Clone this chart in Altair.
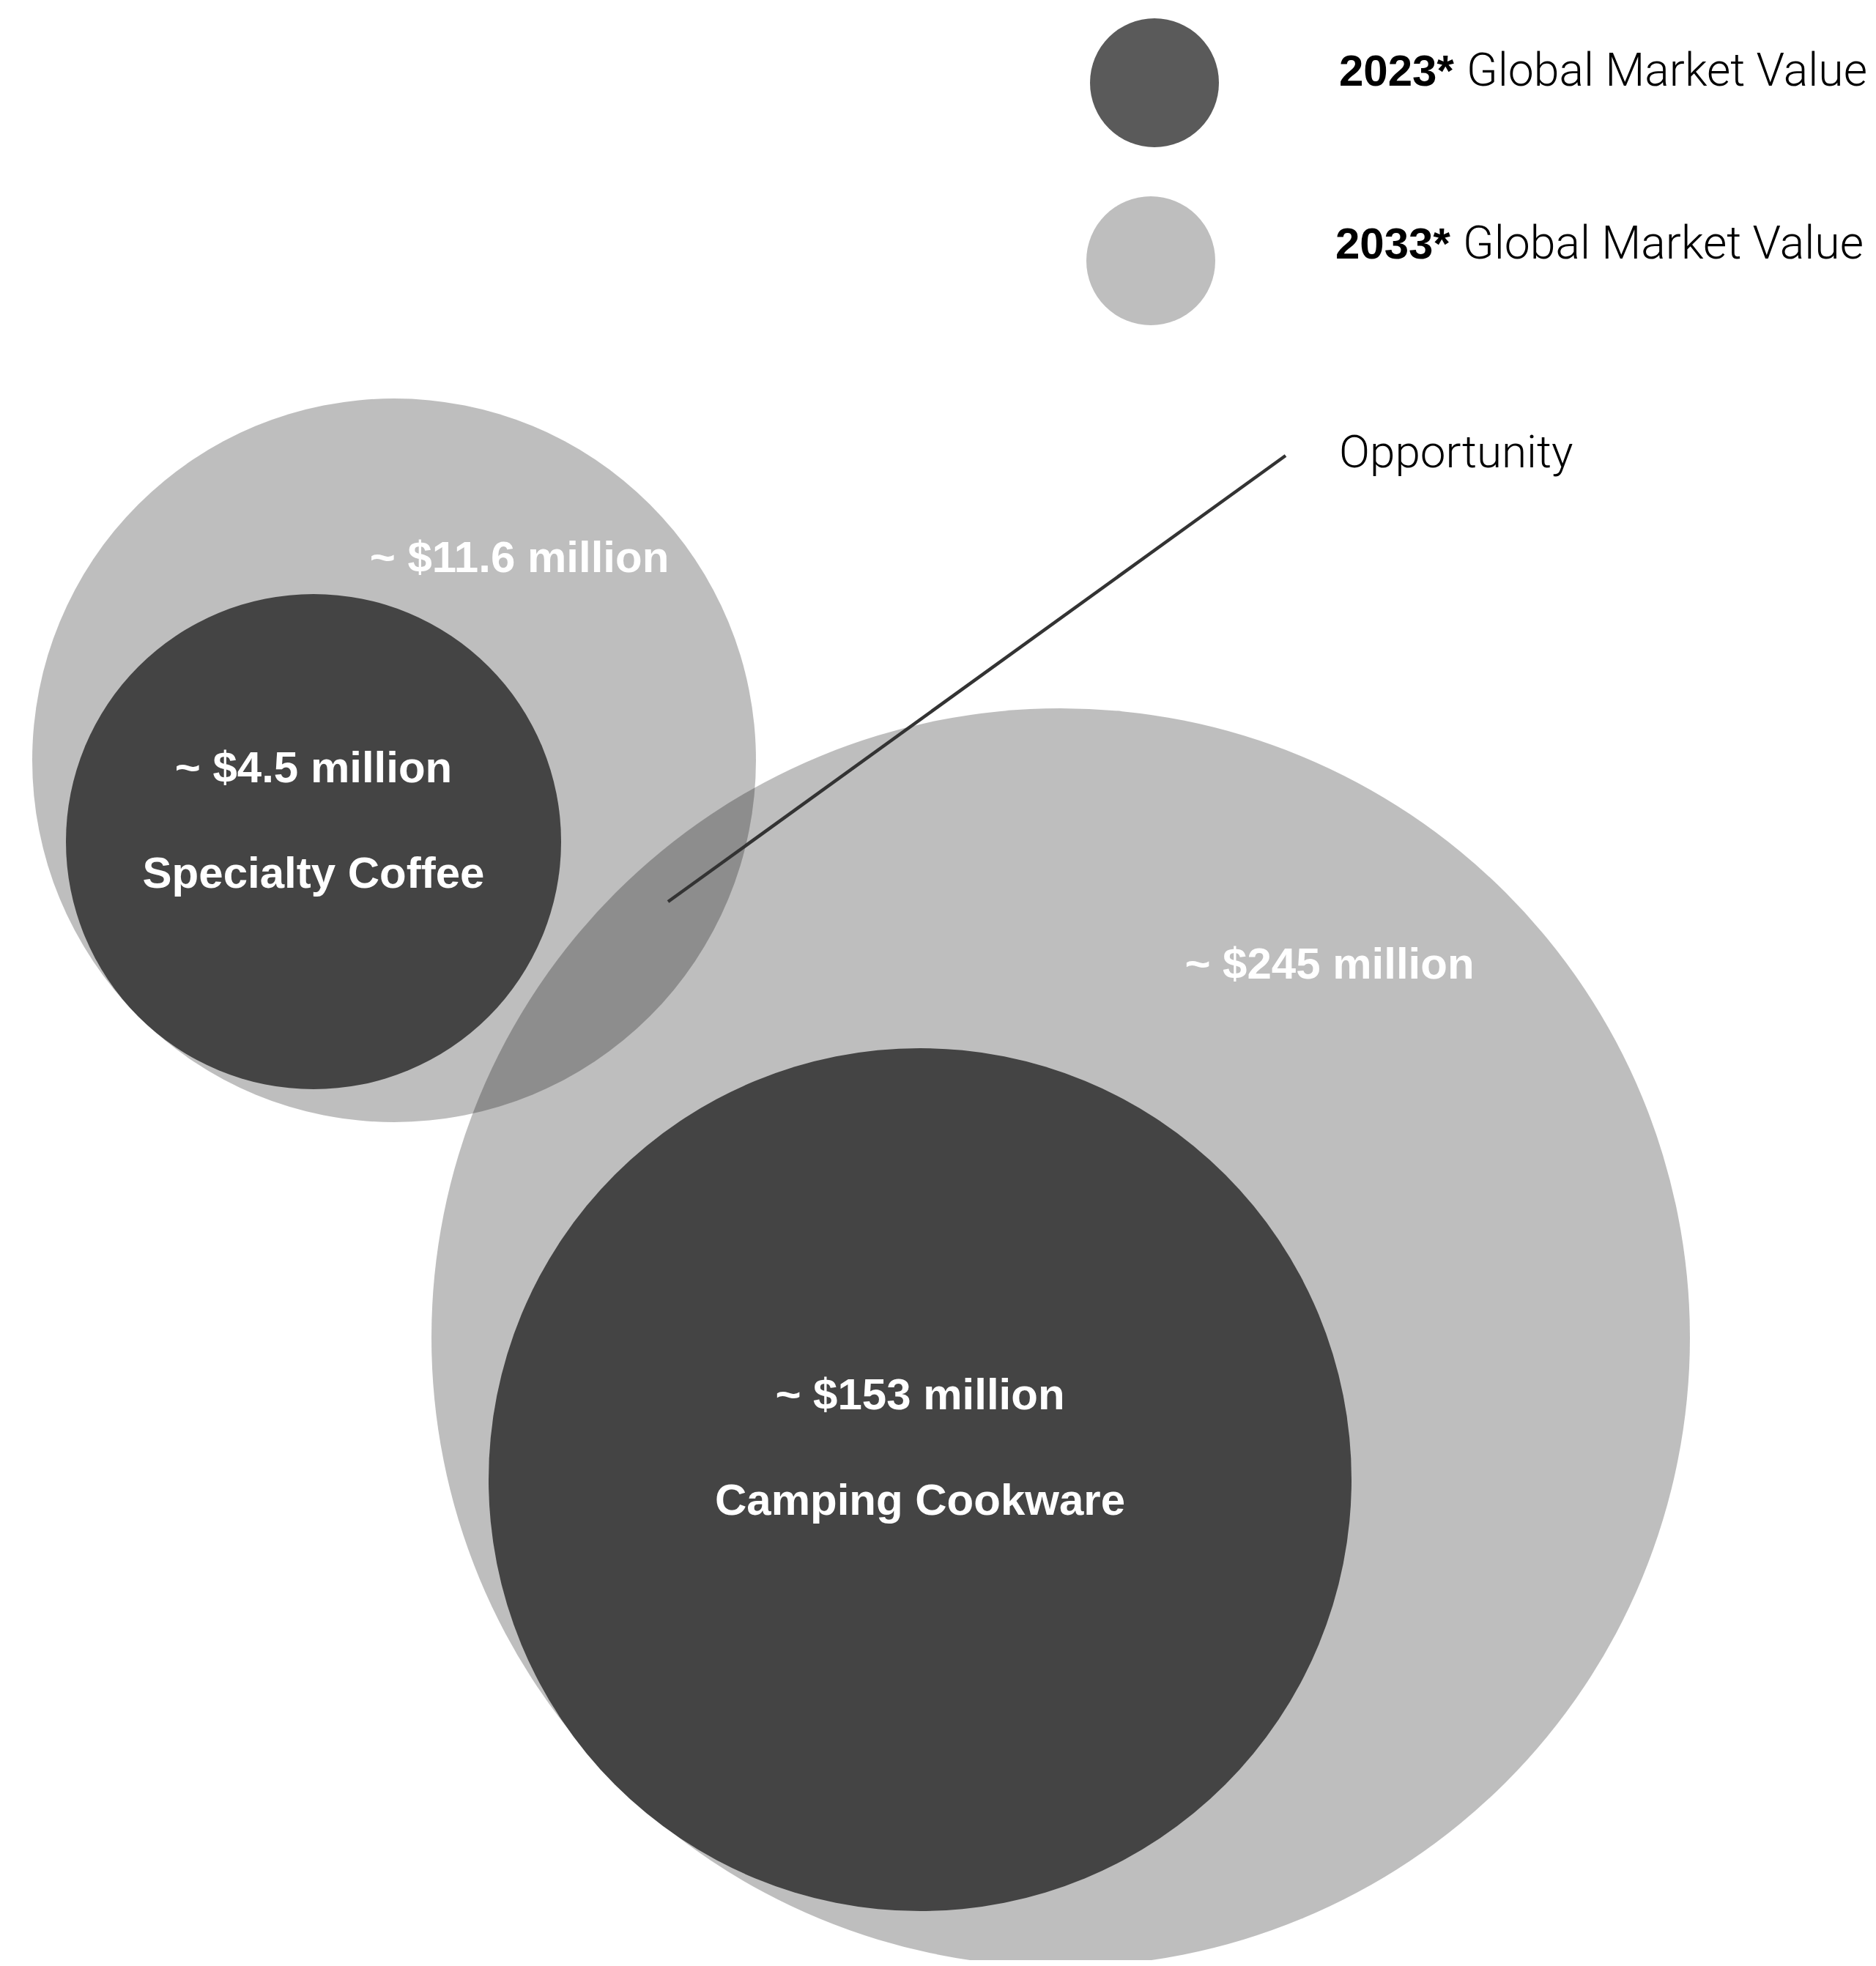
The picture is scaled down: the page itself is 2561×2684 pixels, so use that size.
import altair as alt
import pandas as pd

# ---- data ----
categories = ["Specialty Coffee", "Camping Cookware"]
value_2023 = [4.5, 153]
value_2033 = [11.6, 245]
legend_years = ["2023*", "2033*"]
legend_suffix = "Global Market Value"
annotation = "Opportunity"

# ---- layout (pixel positions on the page) ----
c2033_x = [538, 1448]
c2033_y = [1038, 1826]
c2033_r = [494, 859]
c2023_x = [428, 1256]
c2023_y = [1149, 2020]
c2023_r = [338, 589]
lbl2033_x = [709, 1815]
lbl2033_y = [781, 1336]
lbl2023_y = [1068, 1924]
name_y = [1212, 2068]
leg_cx = [1576, 1571]
leg_cy = [113, 356]
leg_r = 88
leg_year_x = [1828, 1823]
leg_suffix_x = [2002, 1997]
leg_text_y = [117, 353]
opp_x, opp_y = 1828, 638
line_x = [912, 1755]
line_y = [1231, 622]

W, H = 2545, 2668
xs = alt.Scale(domain=[8, 8 + W], nice=False, zero=False)
ys = alt.Scale(domain=[8, 8 + H], nice=False, zero=False, reverse=True)


def fmt(v):
    return f"~ ${v:g} million"


def X(f="x"):
    return alt.X(f"{f}:Q", scale=xs, axis=None)


def Y(f="y"):
    return alt.Y(f"{f}:Q", scale=ys, axis=None)


big = pd.DataFrame({"x": c2033_x, "y": c2033_y, "size": [(2 * r) ** 2 for r in c2033_r],
                    "cat": categories})
small = pd.DataFrame({"x": c2023_x, "y": c2023_y, "size": [(2 * r) ** 2 for r in c2023_r],
                      "cat": categories})

coffee_big = alt.Chart(big.iloc[[0]]).mark_circle(color="#000000", opacity=0.255).encode(
    x=X(), y=Y(), size=alt.Size("size:Q", scale=None))
coffee_small = alt.Chart(small.iloc[[0]]).mark_circle(color="#444444", opacity=1).encode(
    x=X(), y=Y(), size=alt.Size("size:Q", scale=None))
camp_big = alt.Chart(big.iloc[[1]]).mark_circle(color="#000000", opacity=0.255).encode(
    x=X(), y=Y(), size=alt.Size("size:Q", scale=None))
camp_small = alt.Chart(small.iloc[[1]]).mark_circle(color="#444444", opacity=1).encode(
    x=X(), y=Y(), size=alt.Size("size:Q", scale=None))

line_df = pd.DataFrame({"x": [line_x[0]], "y": [line_y[0]], "x2": [line_x[1]], "y2": [line_y[1]]})
line = alt.Chart(line_df).mark_rule(color="#333333", strokeWidth=4.5).encode(
    x=X(), y=Y(), x2="x2:Q", y2="y2:Q")

lbl33 = pd.DataFrame({"x": lbl2033_x, "y": lbl2033_y, "t": [fmt(v) for v in value_2033]})
lbl23 = pd.DataFrame({"x": c2023_x, "y": lbl2023_y, "t": [fmt(v) for v in value_2023]})
names = pd.DataFrame({"x": c2023_x, "y": name_y, "t": categories})

def white_text(df):
    return alt.Chart(df).mark_text(font="Liberation Sans", fontWeight="bold", fontSize=60,
                                   color="white", align="center", baseline="alphabetic").encode(
        x=X(), y=Y(), text="t:N")

leg_c = pd.DataFrame({"x": leg_cx, "y": leg_cy, "size": [(2 * leg_r) ** 2] * 2,
                      "c": ["#5a5a5a", "#bebebe"]})
legend_circles = alt.Chart(leg_c).mark_circle(opacity=1).encode(
    x=X(), y=Y(), size=alt.Size("size:Q", scale=None), color=alt.Color("c:N", scale=None))

leg_years_df = pd.DataFrame({"x": leg_year_x, "y": leg_text_y, "t": legend_years})
leg_years = alt.Chart(leg_years_df).mark_text(font="Liberation Sans", fontWeight="bold", fontSize=60,
                                              color="black", align="left", baseline="alphabetic").encode(
    x=X(), y=Y(), text="t:N")
leg_suf_df = pd.DataFrame({"x": leg_suffix_x, "y": leg_text_y, "t": [legend_suffix] * 2})
leg_suf = alt.Chart(leg_suf_df).mark_text(font="Roboto", fontWeight=300, fontSize=62.5,
                                          color="black", align="left", baseline="alphabetic").encode(
    x=X(), y=Y(), text="t:N")
opp_df = pd.DataFrame({"x": [opp_x], "y": [opp_y], "t": [annotation]})
opp = alt.Chart(opp_df).mark_text(font="Roboto", fontWeight=300, fontSize=62,
                                  color="black", align="left", baseline="alphabetic").encode(
    x=X(), y=Y(), text="t:N")

chart = alt.layer(
    coffee_big, coffee_small, camp_big, camp_small, line,
    white_text(lbl33), white_text(lbl23), white_text(names),
    legend_circles, leg_years, leg_suf, opp,
).properties(
    width=W, height=H, padding=0, autosize=alt.AutoSizeParams(type="none"),
    background="white",
).configure_view(stroke=None)

chart.save("out.html", embed_options={"renderer": "svg", "actions": False})
